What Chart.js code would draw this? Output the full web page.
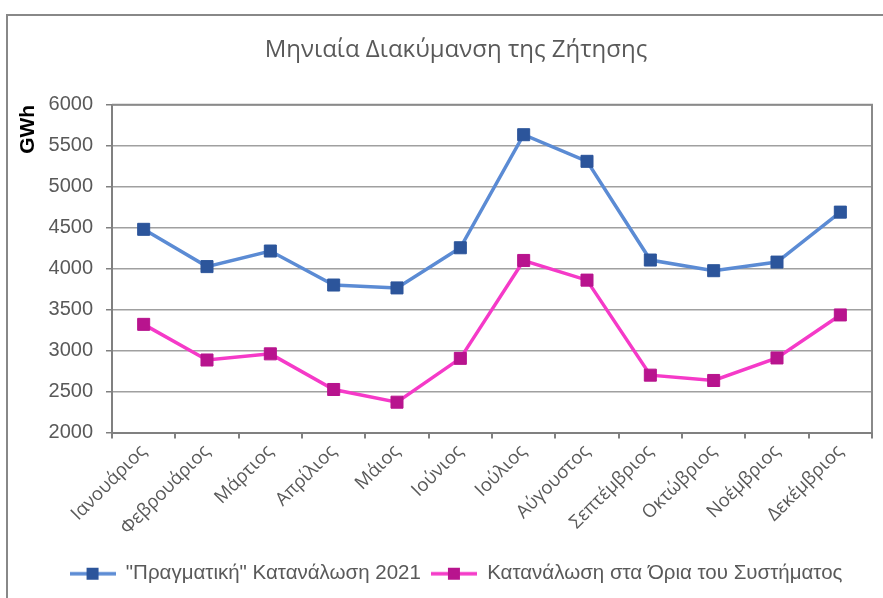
<!DOCTYPE html>
<html>
<head>
<meta charset="utf-8">
<script src="https://cdn.jsdelivr.net/npm/chart.js@4"></script>
<style>
  html, body { margin: 0; padding: 0; background: #ffffff; }
  #wrap { position: relative; width: 883px; height: 598px; overflow: hidden; }
  #frame { position: absolute; left: 6px; top: 14px; width: 900px; height: 620px;
           border-left: 2px solid #888888; border-top: 2px solid #888888; }
  canvas { position: absolute; left: 0; top: 0; }
</style>
</head>
<body>
<div id="wrap">
  <div id="frame"></div>
  <canvas id="c" width="883" height="598"></canvas>
</div>
<script>
const chartTitle = 'Μηνιαία Διακύμανση της Ζήτησης';
const yAxisTitle = 'GWh';
const months = ['Ιανουάριος', 'Φεβρουάριος', 'Μάρτιος', 'Απρίλιος', 'Μάιος', 'Ιούνιος',
                'Ιούλιος', 'Αύγουστος', 'Σεπτέμβριος', 'Οκτώβριος', 'Νοέμβριος', 'Δεκέμβριος'];
const seriesNames = ['"Πραγματική" Κατανάλωση 2021', 'Κατανάλωση στα Όρια του Συστήματος'];
const actual2021 = [4480, 4025, 4215, 3800, 3765, 4255, 5635, 5310, 4105, 3975, 4080, 4690];
const systemBorders = [3320, 2885, 2960, 2525, 2370, 2905, 4100, 3860, 2700, 2635, 2910, 3435];
const yTicks = [2000, 2500, 3000, 3500, 4000, 4500, 5000, 5500, 6000];

const lineColors = ['#5b8bd4', '#f53ac8'];
const markerColors = ['#2c559b', '#b8148e'];

function legendIcon(lineColor, markerColor) {
  const cv = document.createElement('canvas');
  cv.width = 46; cv.height = 14;
  const g = cv.getContext('2d');
  g.strokeStyle = lineColor; g.lineWidth = 3.5;
  g.beginPath(); g.moveTo(0, 7); g.lineTo(46, 7); g.stroke();
  g.fillStyle = markerColor; g.fillRect(17, 1, 12, 12);
  return cv;
}
const icons = [legendIcon(lineColors[0], markerColors[0]), legendIcon(lineColors[1], markerColors[1])];

const plotBorder = {
  id: 'plotBorder',
  afterDatasetsDraw(chart) {
    const {ctx, chartArea: a} = chart;
    ctx.save();
    ctx.strokeStyle = '#8a8a8a';
    ctx.lineWidth = 2;
    ctx.beginPath();
    ctx.moveTo(a.left, a.top);
    ctx.lineTo(a.right, a.top);
    ctx.lineTo(a.right, a.bottom);
    ctx.stroke();
    ctx.restore();
  }
};

new Chart(document.getElementById('c'), {
  type: 'line',
  data: {
    labels: months,
    datasets: [
      { label: seriesNames[0], data: actual2021, borderColor: lineColors[0], backgroundColor: markerColors[0],
        pointBackgroundColor: markerColors[0], pointBorderColor: markerColors[0], borderWidth: 3.5,
        pointStyle: 'rect', pointRadius: 8.5, pointBorderWidth: 1, tension: 0 },
      { label: seriesNames[1], data: systemBorders, borderColor: lineColors[1], backgroundColor: markerColors[1],
        pointBackgroundColor: markerColors[1], pointBorderColor: markerColors[1], borderWidth: 3.5,
        pointStyle: 'rect', pointRadius: 8.5, pointBorderWidth: 1, tension: 0 }
    ]
  },
  options: {
    responsive: false,
    animation: false,
    layout: { padding: { left: 40, right: 11, top: 0, bottom: 4 } },
    plugins: {
      title: {
        display: true, text: chartTitle, color: '#595959',
        font: { family: '"Open Sans", "Noto Sans", sans-serif', size: 24, weight: 'normal' },
        padding: { top: 36, bottom: 40 }
      },
      legend: {
        position: 'bottom',
        labels: {
          usePointStyle: true, pointStyleWidth: 46,
          color: '#595959',
          font: { family: '"Liberation Sans", Arial, sans-serif', size: 20.5 },
          padding: 10,
          generateLabels(chart) {
            return chart.data.datasets.map((ds, i) => ({
              text: ds.label, pointStyle: icons[i], fillStyle: markerColors[i],
              strokeStyle: lineColors[i], lineWidth: 0, hidden: false, datasetIndex: i, fontColor: '#595959'
            }));
          }
        }
      },
      tooltip: { enabled: false }
    },
    scales: {
      x: {
        offset: true,
        grid: { offset: true, drawOnChartArea: false, tickLength: 6, color: '#808080', lineWidth: 2 },
        border: { color: '#808080', width: 2 },
        ticks: { autoSkip: false, maxRotation: 45, minRotation: 45, color: '#595959', padding: 2,
                 font: { family: '"Open Sans", "Noto Sans", sans-serif', size: 18.5 } },
        afterFit(s) { s.height = 121; }
      },
      y: {
        min: 2000, max: 6000,
        afterBuildTicks(s) { s.ticks = yTicks.map(v => ({ value: v })); },
        grid: { color: '#a0a0a0', lineWidth: 1.5, tickLength: 6, tickColor: '#808080' },
        border: { color: '#808080', width: 2 },
        ticks: { color: '#595959', padding: 13, callback: v => String(v),
                 font: { family: '"Liberation Sans", Arial, sans-serif', size: 20 } },
        title: { display: true, text: yAxisTitle, align: 'end', color: '#000000',
                 font: { family: '"Liberation Sans", Arial, sans-serif', size: 21, weight: 'bold' },
                 padding: { top: -24, bottom: 0 } },
        afterFit(s) { s.width = 72; }
      }
    }
  },
  plugins: [plotBorder]
});
</script>
</body>
</html>
